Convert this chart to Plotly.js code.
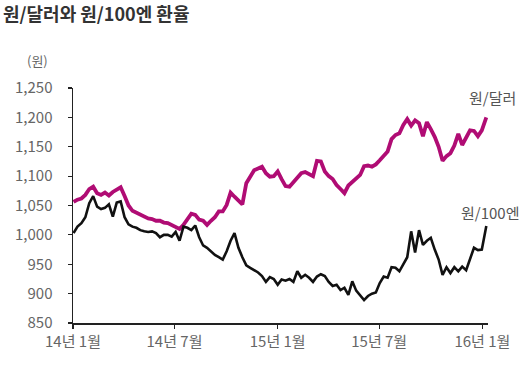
<!DOCTYPE html>
<html>
<head>
<meta charset="utf-8">
<script src="https://cdn.plot.ly/plotly-3.0.1.min.js"></script>
<style>html,body{margin:0;padding:0;background:#fff;}#chart{width:531px;height:372px;}</style>
</head>
<body>
<div id="chart"></div>
<script>
// Weekly dates
const dates = [
"2014-01-02","2014-01-09","2014-01-16","2014-01-23","2014-01-30","2014-02-06","2014-02-13","2014-02-20","2014-02-27","2014-03-06",
"2014-03-13","2014-03-20","2014-03-27","2014-04-03","2014-04-10","2014-04-17","2014-04-24","2014-05-01","2014-05-08","2014-05-15",
"2014-05-22","2014-05-29","2014-06-05","2014-06-12","2014-06-19","2014-06-26","2014-07-03","2014-07-10","2014-07-17","2014-07-24",
"2014-07-31","2014-08-07","2014-08-14","2014-08-21","2014-08-28","2014-09-04","2014-09-11","2014-09-18","2014-09-25","2014-10-02",
"2014-10-09","2014-10-16","2014-10-23","2014-10-30","2014-11-06","2014-11-13","2014-11-20","2014-11-27","2014-12-04","2014-12-11",
"2014-12-18","2014-12-25","2015-01-01","2015-01-08","2015-01-15","2015-01-22","2015-01-29","2015-02-05","2015-02-12","2015-02-19",
"2015-02-26","2015-03-05","2015-03-12","2015-03-19","2015-03-26","2015-04-02","2015-04-09","2015-04-16","2015-04-23","2015-04-30",
"2015-05-07","2015-05-14","2015-05-21","2015-05-28","2015-06-04","2015-06-11","2015-06-18","2015-06-25","2015-07-02","2015-07-09",
"2015-07-16","2015-07-23","2015-07-30","2015-08-06","2015-08-13","2015-08-20","2015-08-27","2015-09-03","2015-09-10","2015-09-17",
"2015-09-24","2015-10-01","2015-10-08","2015-10-15","2015-10-22","2015-10-29","2015-11-05","2015-11-12","2015-11-19","2015-11-26",
"2015-12-03","2015-12-10","2015-12-17","2015-12-24","2015-12-31","2016-01-08"
];

// 원/달러
const krwUsd = [
1056,1060,1062,1068,1078,1082,1071,1068,1072,1067,
1073,1077,1081,1066,1050,1041,1038,1034,1031,1028,
1027,1024,1024,1021,1020,1017,1013,1010,1017,1026,
1036,1034,1026,1024,1017,1024,1030,1040,1040,1051,
1072,1065,1058,1052,1088,1100,1110,1113,1116,1105,
1099,1100,1108,1095,1083,1082,1090,1098,1105,1107,
1104,1100,1126,1125,1108,1100,1095,1085,1078,1071,
1084,1090,1095,1102,1117,1118,1116,1120,1127,1134,
1142,1163,1170,1173,1187,1197,1186,1195,1190,1168,
1192,1180,1167,1150,1126,1134,1139,1152,1172,1153,
1165,1178,1177,1168,1178,1200
];

// 원/100엔
const krwJpy = [
1003,1014,1020,1030,1054,1066,1048,1044,1046,1052,
1031,1055,1057,1030,1018,1014,1012,1008,1006,1005,
1006,1003,996,1000,1000,997,1005,990,1014,1012,
1008,1016,996,982,978,972,966,962,958,972,
990,1003,978,962,948,944,940,936,930,920,
928,925,915,924,922,925,920,938,927,932,
927,920,929,933,930,920,913,915,906,910,
898,921,905,896,889,896,900,902,918,929,
927,945,944,938,950,962,1006,970,1008,983,
990,995,975,958,932,945,935,945,938,946,
940,960,978,974,975,1015
];

const tickVals = ["2014-01-01","2014-07-01","2015-01-01","2015-07-01","2016-01-01"];
const tickText = ["14년 1월","14년 7월","15년 1월","15년 7월","16년 1월"];
const yTickVals = [850,900,950,1000,1050,1100,1150,1200,1250];
const yTickText = ["850","900","950","1,000","1,050","1,100","1,150","1,200","1,250"];
const seriesNames = ["원/달러","원/100엔"];

const FONT = "'Noto Sans CJK KR', 'Noto Sans', sans-serif";

const traces = [
  {x: dates, y: krwUsd, type: 'scatter', mode: 'lines', name: seriesNames[0],
   line: {color: '#B00C74', width: 3.8}},
  {x: dates, y: krwJpy, type: 'scatter', mode: 'lines', name: seriesNames[1],
   line: {color: '#111111', width: 2.6}}
];

const layout = {
  width: 531, height: 372,
  margin: {l: 73, r: 43, t: 88, b: 49},
  paper_bgcolor: '#fff', plot_bgcolor: '#fff',
  showlegend: false,
  font: {family: FONT, color: '#666', size: 15},
  title: {text: '원/달러와 원/100엔 환율', xref: 'container', yref: 'container',
          x: 3/531, xanchor: 'left', y: 1 - 15/372, yanchor: 'middle',
          font: {family: FONT, size: 18, color: '#333', weight: 'bold'}},
  xaxis: {type: 'date', range: ['2014-01-01', '2016-01-11'],
          tickmode: 'array', tickvals: tickVals, ticktext: tickText,
          showgrid: false, zeroline: false, showline: true, linecolor: '#222', linewidth: 1.5,
          ticks: 'outside', ticklen: 4, tickcolor: '#222', tickwidth: 1.2,
          tickfont: {family: FONT, size: 15, color: '#666'}},
  yaxis: {range: [850, 1250], tickmode: 'array', tickvals: yTickVals, ticktext: yTickText,
          showgrid: false, zeroline: false, showline: true, linecolor: '#222', linewidth: 1.5,
          ticks: 'outside', ticklen: 4, tickcolor: '#222', tickwidth: 1.2,
          ticklabelstandoff: 12,
          tickfont: {family: FONT, size: 15, color: '#666'}},
  annotations: [
    {text: '(원)', xref: 'paper', yref: 'paper', x: (37-73)/415, y: (323-60)/235,
     xanchor: 'center', yanchor: 'middle', showarrow: false,
     font: {family: FONT, size: 13, color: '#666'}},
    {text: seriesNames[0], xref: 'paper', yref: 'paper', x: (492-73)/415, y: (323-98)/235,
     xanchor: 'center', yanchor: 'middle', showarrow: false,
     font: {family: FONT, size: 15, color: '#555'}},
    {text: seriesNames[1], xref: 'paper', yref: 'paper', x: (490-73)/415, y: (323-212)/235,
     xanchor: 'center', yanchor: 'middle', showarrow: false,
     font: {family: FONT, size: 15, color: '#555'}}
  ]
};

Plotly.newPlot('chart', traces, layout, {displayModeBar: false, staticPlot: true});
</script>
</body>
</html>
